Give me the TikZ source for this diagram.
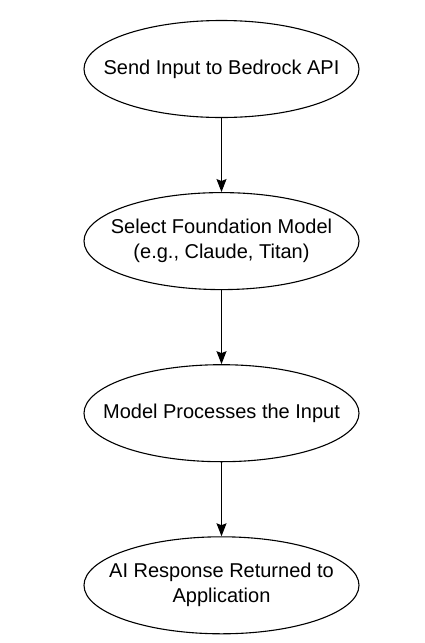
\documentclass[tikz,border=0pt]{standalone}
\usepackage{fontspec}
\setmainfont{Liberation Sans}
\usetikzlibrary{positioning,shapes.geometric,arrows.meta}

\tikzset{
    oval/.style={draw, ellipse, line width=1.1pt, minimum width=275pt, minimum height=97pt, inner sep=0pt},
    ovaltext/.style={align=center, font=\fontsize{20}{25}\selectfont},
    flow/.style={-{Stealth[length=13pt, width=10pt, inset=2pt]}, line width=1.1pt}
}

\begin{document}
\begin{tikzpicture}[node distance=74pt]
\useasboundingbox (0,0) rectangle (424pt,-643pt);
\node[oval] (send) at (221.5pt,-69pt) {};
\node[oval, below=of send] (select) {};
\node[oval, below=of select] (process) {};
\node[oval, below=of process] (respond) {};
\node[ovaltext] (sendtext) at (send) {Send Input to Bedrock API};
\node[ovaltext] (selecttext) at (select) {Select Foundation Model\\(e.g., Claude, Titan)};
\node[ovaltext] (processtext) at (process) {Model Processes the Input};
\node[ovaltext] (respondtext) at (respond) {AI Response Returned to\\Application};
\draw[flow] (send) -- (select);
\draw[flow] (select) -- (process);
\draw[flow] (process) -- (respond);
\end{tikzpicture}
\end{document}
